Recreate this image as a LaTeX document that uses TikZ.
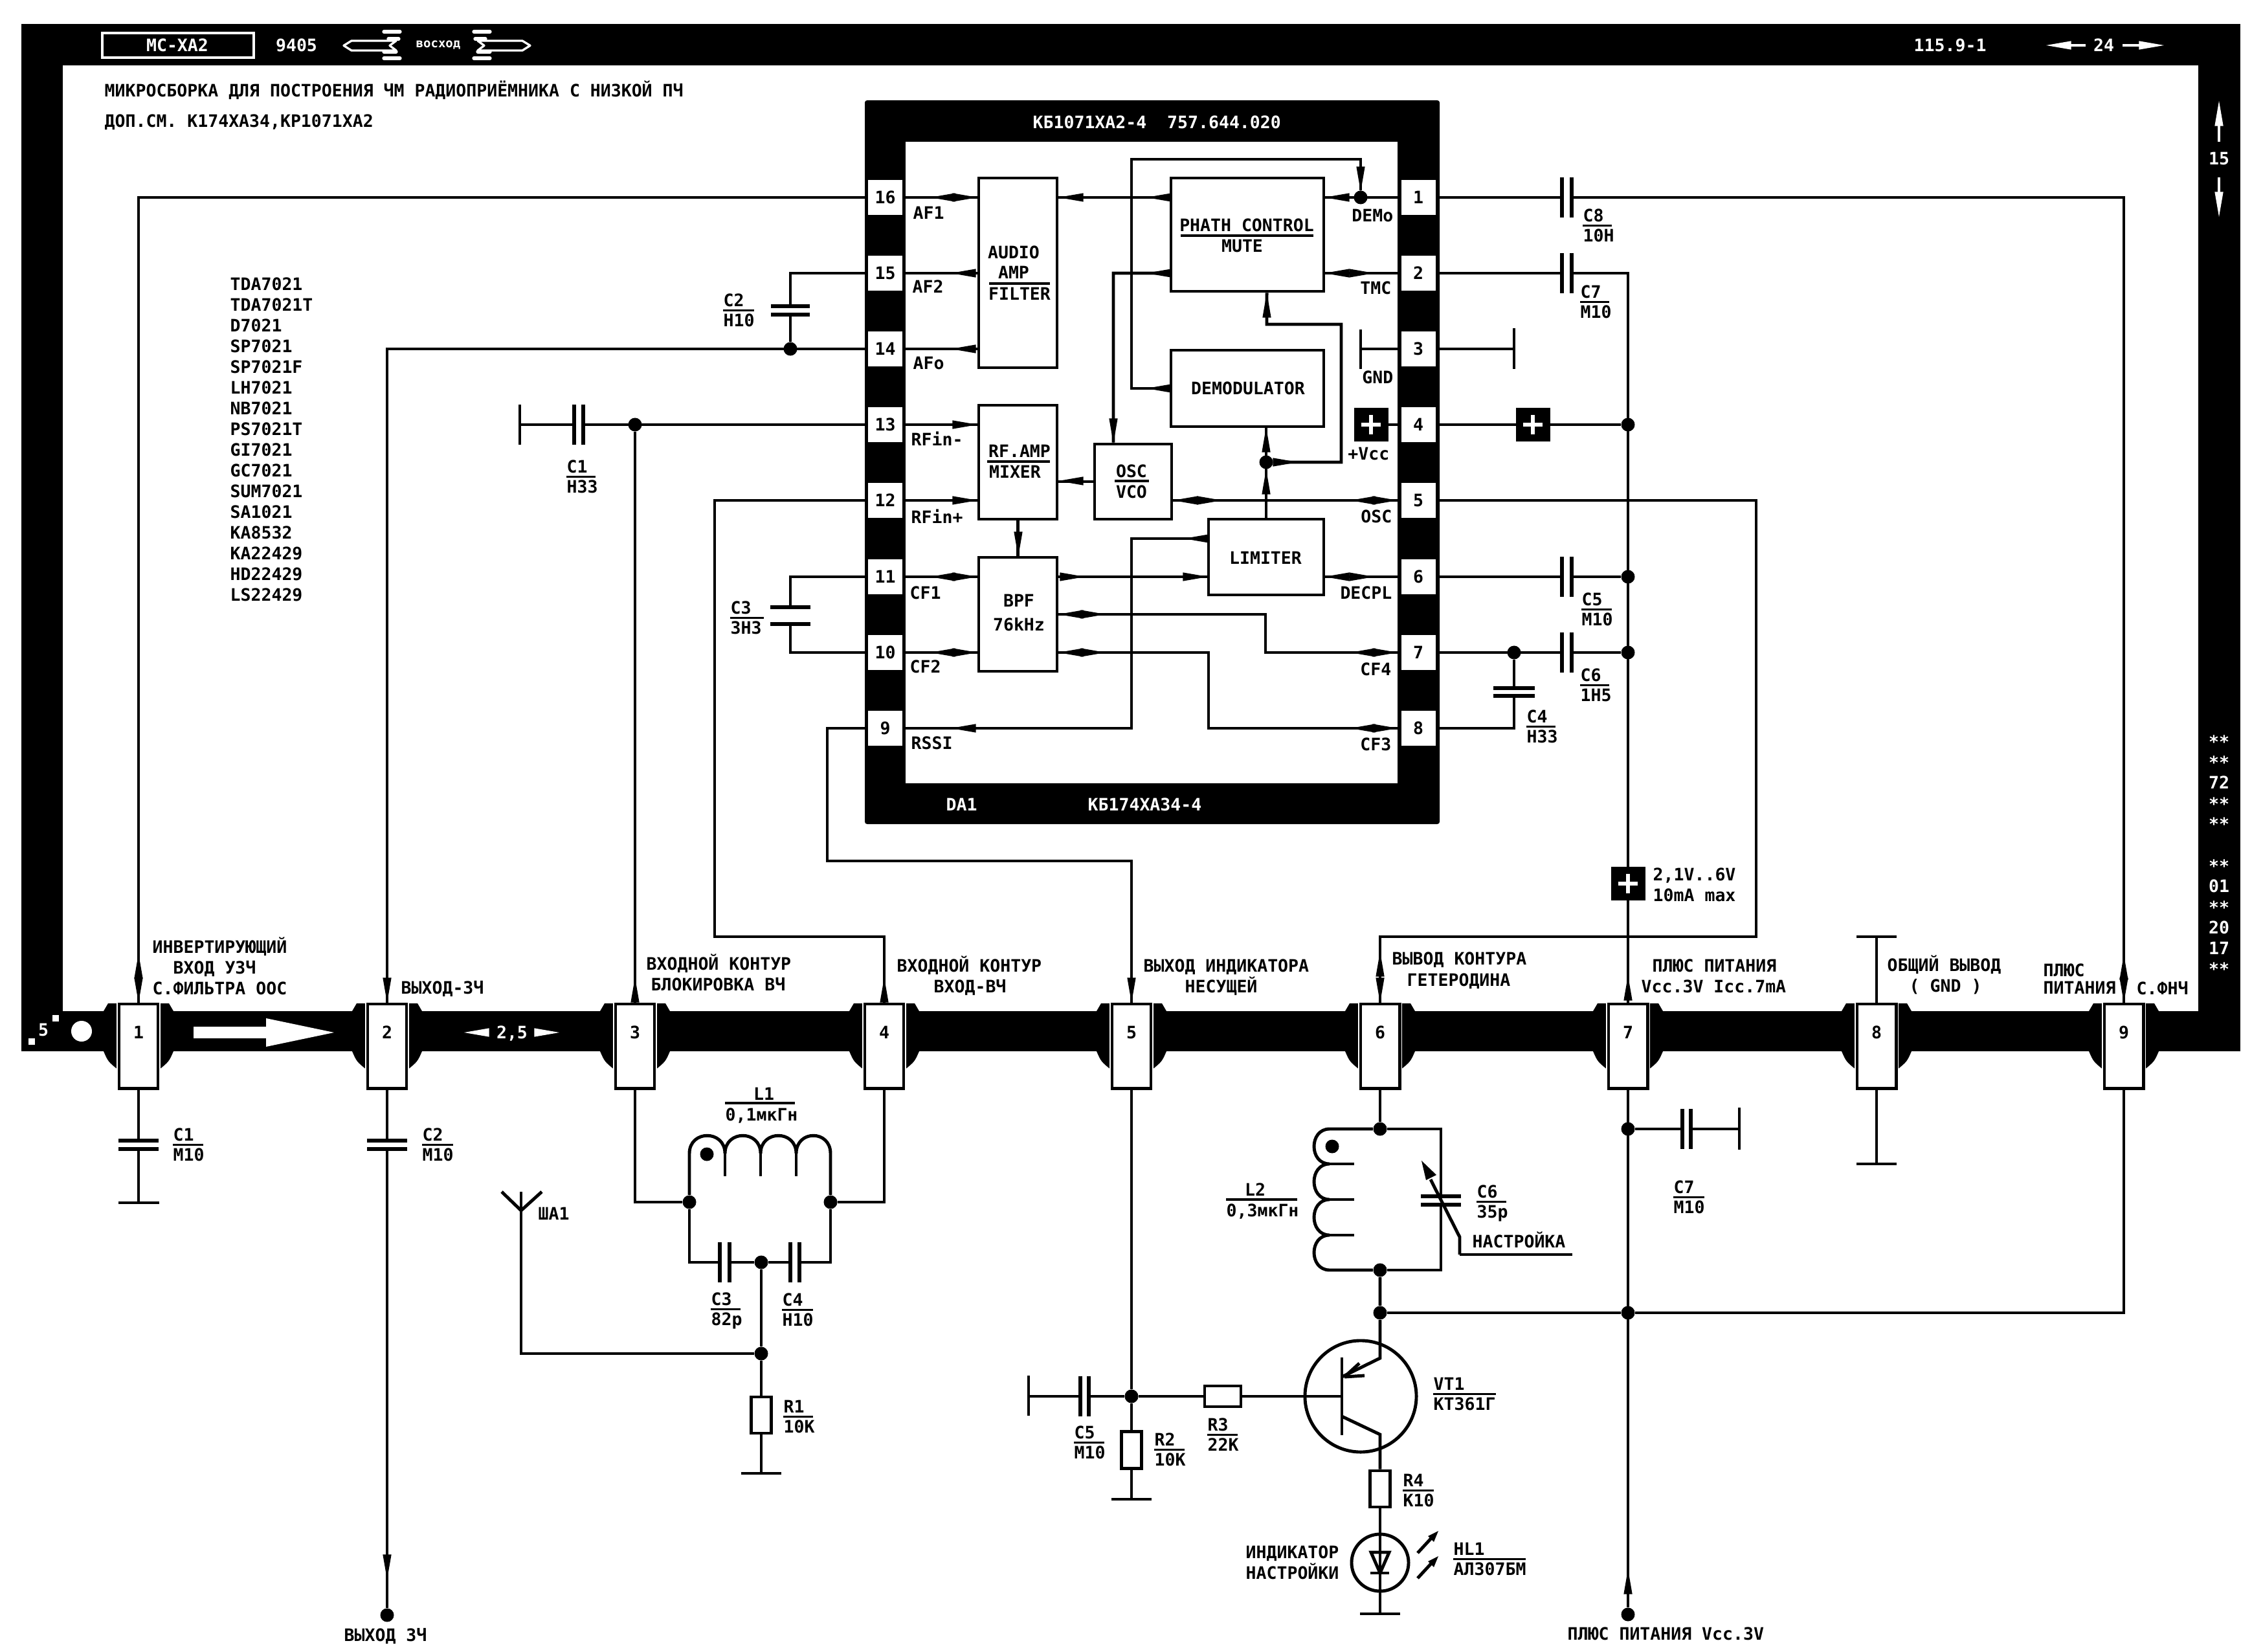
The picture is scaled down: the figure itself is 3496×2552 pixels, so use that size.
\documentclass[tikz,border=0pt]{standalone}
\usepackage{fontspec}
\usetikzlibrary{fit}
\newfontfamily\ftm{DejaVu Sans Mono}
\newcounter{tn}
\tikzset{
  w/.style={line width=1.4pt,line join=miter},
  pl/.style={line width=1.5pt},
  rl/.style={line width=1pt},
  lab/.style={font=\ftm\bfseries\fontsize{7.54}{9}\selectfont,inner sep=0pt,text height=5.5pt,text depth=0pt},
  smalllab/.style={font=\ftm\bfseries\fontsize{5.4}{6}\selectfont,inner sep=0pt,text=white},
  dot/.style={circle,fill=black,inner sep=0pt,minimum size=0.21cm},
  cpin/.style={rectangle,fill=white,inner sep=0pt,minimum width=0.53cm,minimum height=0.53cm,lab},
  bpin/.style={rectangle,draw=black,fill=white,line width=1.4pt,inner sep=0pt,minimum width=0.6cm,minimum height=1.3cm},
  numlab/.style={lab,yshift=6pt},
  res/.style={rectangle,draw=black,fill=white,line width=1.4pt,inner sep=0pt},
  blockst/.style={rectangle,draw=black,line width=1.4pt,inner sep=0pt},
  plusbox/.style={rectangle,fill=black,inner sep=0pt,minimum width=0.53cm,minimum height=0.52cm},
}
\newcommand\Tl[3]{\stepcounter{tn}\node[lab,anchor=west] (t\arabic{tn}) at (#1,#2) {#3};}
\newcommand\Tr[3]{\stepcounter{tn}\node[lab,anchor=east] (t\arabic{tn}) at (#1,#2) {#3};}
\newcommand\Tc[3]{\stepcounter{tn}\node[lab] (t\arabic{tn}) at (#1,#2) {#3};}
\newcommand\Wl[3]{\stepcounter{tn}\node[lab,anchor=west,text=white] (t\arabic{tn}) at (#1,#2) {#3};}
\newcommand\Wc[3]{\stepcounter{tn}\node[lab,text=white] (t\arabic{tn}) at (#1,#2) {#3};}
% arrowhead: tip x, y, direction angle
\newcommand\ah[4][black]{\fill[#1,shift={(#2,#3)},rotate=#4] (0pt,0pt) -- (-11pt,1.9pt) -- (-11pt,-1.9pt) -- cycle;}
% capacitor with horizontal plates: x,y1,y2,halfwidth
\newcommand\capH[4]{\fill[white] ({#1-5},#2) rectangle ({#1+5},#3);\draw[pl] ({#1-#4},#2) -- ({#1+#4},#2);\draw[pl] ({#1-#4},#3) -- ({#1+#4},#3);}
% capacitor with vertical plates: x1,x2,y,halfheight
\newcommand\capV[4]{\fill[white] (#1,{#3-5}) rectangle (#2,{#3+5});\draw[pl] (#1,{#3-#4}) -- (#1,{#3+#4});\draw[pl] (#2,{#3-#4}) -- (#2,{#3+#4});}
% value label: x, y of top line, right end of rule, top, bottom
\newcommand\val[5]{\Tl{#1}{#2}{#4}\draw[rl] (#1,{#2+15.5}) -- (#3,{#2+15.5});\Tl{#1}{#2+31}{#5}}
\newcommand\blk[5]{\node[blockst,fit={(#2,#3)(#4,#5)}] (#1) {};}
\newcommand\plusb[3]{\node[plusbox] (#1) at (#2,#3) {};\draw[white,line width=1.6pt] ([xshift=-0.15cm]#1.center) -- ([xshift=0.15cm]#1.center);\draw[white,line width=1.6pt] ([yshift=-0.15cm]#1.center) -- ([yshift=0.15cm]#1.center);}
\begin{document}
\begin{tikzpicture}[x=0.01cm,y=-0.01cm]
\useasboundingbox (0,0) rectangle (3496,2552);
\fill[white] (0,0) rectangle (3496,2552);
% ---------- frame
\fill[black] (33,37) rectangle (3461,101);
\fill[black] (33,37) rectangle (97,1624);
\fill[black] (3396,37) rectangle (3461,1624);
\fill[black] (33,1562) rectangle (3461,1624);
% ---------- head of frame
\draw[white,line width=0.9pt] (158,51) rectangle (392,89);
\Wc{274}{70}{МС-ХА2}
\Wc{458}{70}{9405}
\foreach \mir in {0,1}{
 \begin{scope}[shift={(\mir*1350,0)},xscale=1-2*\mir]
  \draw[white,line width=0.95pt,line join=round] (612,63) -- (543,63) -- (531,70.4) -- (543,78) -- (612,78) -- (602,70.4) -- cycle;
  \draw[white,line width=1.5pt,line cap=round] (593,49) -- (618,49);
  \draw[white,line width=1.5pt,line cap=round] (600,60) -- (616,60);
  \draw[white,line width=1.5pt,line cap=round] (593,80) -- (612,80);
  \draw[white,line width=1.5pt,line cap=round] (593,90) -- (618,90);
 \end{scope}
}
\node[smalllab] (voshod) at (677,70) {восход};
\Wl{2956}{70}{115.9-1}
\Wc{3250}{70}{24}
\ah[white]{3161}{70}{180}
\ah[white]{3343}{70}{0}
\fill[white] (3195,68) rectangle (3222,72);
\fill[white] (3279,68) rectangle (3310,72);
\Wc{3428}{245}{15}
\ah[white]{3428}{156}{90}
\ah[white]{3428}{335}{270}
\fill[white] (3426,190) rectangle (3430,219);
\fill[white] (3426,274) rectangle (3430,300);
\foreach \yy/\tx in {1146/**,1178/**,1209/72,1242/**,1273/**,1338/**,1369/01,1402/**,1433/20,1465/17,1497/**}{\Wc{3428}{\yy}{\tx}}
\Tl{161}{140}{МИКРОСБОРКА ДЛЯ ПОСТРОЕНИЯ ЧМ РАДИОПРИЁМНИКА С НИЗКОЙ ПЧ}
\Tl{161}{187}{ДОП.СМ. К174ХА34,КР1071ХА2}
\foreach \yy/\tx in {439/TDA7021,471/TDA7021T,503/D7021,535/SP7021,567/SP7021F,599/LH7021,631/NB7021,663/PS7021T,695/GI7021,727/GC7021,759/SUM7021,791/SA1021,823/KA8532,855/KA22429,887/HD22429,919/LS22429}{\Tl{355}{\yy}{\tx}}
% ---------- bar decoration
\fill[white] (126,1593) circle (16);
\fill[white] (44,1604) rectangle (54,1614);
\fill[white] (81,1568) rectangle (91,1578);
\Wc{67}{1591}{5}
\fill[white] (299,1586) rectangle (411,1604);
\fill[white] (411,1573) -- (516,1595) -- (411,1617) -- cycle;
\Wc{791}{1595}{2,5}
\ah[white]{717}{1595}{180}
\ah[white]{864}{1595}{0}
% ---------- bottom pins
\foreach \xx [count=\i] in {214,598,981,1366,1748,2132,2515,2899,3281}{
  \fill[black] ({\xx-54},1562) -- ({\xx-47},1550) -- ({\xx+47},1550) -- ({\xx+54},1562) -- ({\xx+54},1624) .. controls ({\xx+47},1640) .. ({\xx+31},1653) -- ({\xx-31},1653) .. controls ({\xx-47},1640) .. ({\xx-54},1624) -- cycle;
  \fill[white] ({\xx-34},1550) rectangle ({\xx+34},1660);
  \node[bpin,label={[numlab]center:\i}] (b\i) at (\xx,1616) {};
}
% ---------- chip body
\fill[black,rounded corners=1pt] (1336,155) rectangle (2224,1273);
\fill[white] (1399,219) rectangle (2159,1210);
\Wl{1595}{189}{КБ1071ХА2-4~~757.644.020}
\Wl{1461}{1243}{DA1}
\Wl{1680}{1243}{КБ174ХА34-4}
\foreach \yy/\i in {305/16,422/15,539/14,656/13,773/12,891/11,1008/10,1125/9}{\node[cpin] (p\i) at (1367.5,\yy) {\i};}
\foreach \yy/\i in {305/1,422/2,539/3,656/4,773/5,891/6,1008/7,1125/8}{\node[cpin] (q\i) at (2191,\yy) {\i};}
% ---------- blocks
\blk{audio}{1512}{275}{1633}{568}
\blk{phath}{1809}{275}{2045}{450}
\blk{demod}{1809}{541}{2045}{659}
\blk{rf}{1512}{626}{1633}{802}
\blk{vco}{1691}{686}{1810}{802}
\blk{lim}{1867}{802}{2045}{919}
\blk{bpf}{1512}{861}{1633}{1037}
\Tc{1566}{390}{AUDIO}\Tc{1566}{421}{AMP}\draw[rl] (1528,438) -- (1622,438);\Tc{1575}{454}{FILTER}
\Tc{1926}{348}{PHATH CONTROL}\draw[rl] (1824,364) -- (2029,364);\Tc{1919}{380}{MUTE}
\Tc{1928}{600}{DEMODULATOR}
\Tc{1575}{697}{RF.AMP}\draw[rl] (1525,713) -- (1622,713);\Tc{1568}{729}{MIXER}
\Tc{1748}{728}{OSC}\draw[rl] (1722,743) -- (1775,743);\Tc{1748}{760}{VCO}
\Tc{1955}{862}{LIMITER}
\Tc{1574}{928}{BPF}\Tc{1574}{965}{76kHz}
% pin captions
\Tl{1410}{329}{AF1}\Tl{1409}{443}{AF2}\Tl{1410}{561}{AFo}
\Tl{1407}{679}{RFin-}\Tl{1407}{799}{RFin+}\Tl{1405}{916}{CF1}\Tl{1405}{1030}{CF2}\Tl{1407}{1148}{RSSI}
\Tr{2153}{333}{DEMo}\Tr{2150}{445}{TMC}\Tr{2153}{583}{GND}\Tr{2147}{701}{+Vcc}
\Tr{2151}{798}{OSC}\Tr{2151}{916}{DECPL}\Tr{2150}{1034}{CF4}\Tr{2150}{1150}{CF3}
% ---------- wires inside chip
\draw[w] (p16.east) -- (audio.west |- p16);
\draw[w] (p15.east) -- (audio.west |- p15);
\draw[w] (p14.east) -- (audio.west |- p14);
\draw[w] (p13.east) -- (rf.west |- p13);
\draw[w] (p12.east) -- (rf.west |- p12);
\draw[w] (p11.east) -- (bpf.west |- p11);
\draw[w] (p10.east) -- (bpf.west |- p10);
\draw[w] (p9.east) -- (1748,1125) -- (1748,832) -- (1867,832);
\draw[w] (audio.east |- p16) -- (phath.west |- p16);
\node[dot] (jdem) at (2102,305) {};
\node[dot] (jlim) at (1956,714) {};
\draw[w] (demod.west) -- (1748,600) -- (1748,246) -- (2102,246) -- (jdem);
\draw[w] (phath.east |- q1) -- (q1.west);
\draw[w] (phath.east |- q2) -- (q2.west);
\draw[w] (phath.west |- q2) -- (1720,422) -- ([xshift=-0.305cm]vco.north);
\draw[w] (lim.north) -- (lim.north |- demod.south);
\draw[w] (jlim) -- (2072,714) -- (2072,501) -- (1957,501) -- ([xshift=0.3cm]phath.south);
\draw[w] (vco.west) -- (rf.east |- vco.west);
\draw[w] (rf.south) -- (bpf.north);
\draw[w] (vco.east |- q5) -- (q5.west);
\draw[w] (lim.east |- q6) -- (q6.west);
\draw[w] (bpf.east |- q6) -- (lim.west |- q6);
\draw[w] (bpf.east) -- (1955,949) -- (1955,1008) -- (q7.west);
\draw[w] (bpf.east |- q7) -- (1867,1008) -- (1867,1125) -- (q8.west);
\coordinate (gndi) at (2102,539);
\draw[w] (q3.west) -- (gndi);
\draw[w] (2102,509) -- (2102,570);
\plusb{vcci}{2118}{656}
\draw[w] (vcci.east) -- (q4.west);
% arrowheads inside chip
\foreach \yy in {305,891,1008}{\ah{1437}{\yy}{180}\ah{1510}{\yy}{0}}
\foreach \yy in {422,539,1125}{\ah{1469}{\yy}{180}}
\foreach \yy in {656,773}{\ah{1510}{\yy}{0}}
\ah{1829}{832}{180}
\ah{1635}{305}{180}\ah{1771}{305}{180}
\ah{1771}{600}{180}\ah{1771}{422}{180}
\ah{2102}{296}{270}
\ah{1720}{685}{270}
\ah{2046}{305}{180}
\ah{2046}{422}{180}\ah{2123}{422}{0}
\ah{1957}{452}{90}
\ah{2005}{714}{0}
\ah{1956}{660}{90}\ah{1956}{725}{90}
\ah{1812}{773}{180}\ah{1888}{773}{0}
\ah{2086}{773}{180}\ah{2159}{773}{0}
\ah{2046}{891}{180}\ah{2123}{891}{0}
\ah{1676}{891}{0}\ah{1866}{891}{0}
\ah{1635}{949}{180}\ah{1708}{949}{0}
\ah{2086}{1008}{180}\ah{2159}{1008}{0}
\ah{1635}{1008}{180}\ah{1708}{1008}{0}
\ah{2086}{1125}{180}\ah{2159}{1125}{0}
\ah{1635}{743}{180}
\ah{1573}{860}{270}
% ---------- outer wires, left
\node[dot] (j14) at (1221,539) {};
\node[dot] (j13) at (981,656) {};
\coordinate (g13) at (803,656);
\draw[w] (p16.west) -| (b1.north);
\draw[w] (p14.west) -| (b2.north);
\draw[w] (p15.west) -| (j14);
\draw[w] (p13.west) -- (g13);
\draw[w] (803,625) -- (803,687);
\draw[w] (j13) -- (b3.north);
\draw[w] (p12.west) -- (1104,773) -- (1104,1447) -| (b4.north);
\draw[w] (p11.west) -- (1221,891) -- (1221,1008) -- (p10.west);
\draw[w] (p9.west) -- (1278,1125) -- (1278,1330) -| (b5.north);
\capH{1221}{473}{486}{30}
\capV{887}{901}{656}{31}
\capH{1221}{938}{964}{31}
\val{1117}{464}{1165}{C2}{Н10}
\val{875}{721}{920}{C1}{Н33}
\val{1128}{939}{1180}{C3}{3Н3}
% ---------- outer wires, right
\node[dot] (jv4) at (2515,656) {};
\node[dot] (jv6) at (2515,891) {};
\node[dot] (jv7) at (2515,1008) {};
\node[dot] (jc7) at (2339,1008) {};
\coordinate (g3) at (2339,539);
\draw[w] (q1.east) -| (b9.north);
\draw[w] (q2.east) -| (b7.north);
\draw[w] (q3.east) -- (g3);
\draw[w] (2339,507) -- (2339,570);
\draw[w] (q4.east) -- (jv4);
\draw[w] (q5.east) -- (2713,773) -- (2713,1447) -| (b6.north);
\draw[w] (q6.east) -- (jv6);
\draw[w] (q7.east) -- (jv7);
\draw[w] (q8.east) -| (jc7);
\capV{2413}{2428}{305}{31}
\capV{2413}{2428}{422}{31}
\capV{2413}{2428}{891}{31}
\capV{2413}{2428}{1008}{31}
\capH{2339}{1063}{1075}{32}
\plusb{vcco}{2368}{656}
\plusb{vccm}{2515}{1365}
\val{2445}{333}{2490}{C8}{10Н}
\val{2441}{451}{2486}{C7}{М10}
\val{2443}{926}{2490}{C5}{М10}
\val{2441}{1043}{2486}{C6}{1Н5}
\val{2358}{1107}{2403}{C4}{Н33}
\Tl{2553}{1351}{2,1V..6V}
\Tl{2553}{1383}{10mA max}
% arrowheads at the bottom pins
\ah{214}{1473}{90}\ah{214}{1549}{270}
\ah{598}{1549}{270}
\ah{981}{1510}{90}
\ah{1366}{1510}{90}
\ah{1748}{1549}{270}
\ah{2132}{1470}{90}\ah{2132}{1549}{270}
\ah{2515}{1507}{90}
\ah{3281}{1475}{90}\ah{3281}{1549}{270}
% pin captions
\Tl{235}{1463}{ИНВЕРТИРУЮЩИЙ}\Tl{267}{1495}{ВХОД УЗЧ}\Tl{235}{1527}{С.ФИЛЬТРА ООС}
\Tl{619}{1526}{ВЫХОД-ЗЧ}
\Tl{998}{1489}{ВХОДНОЙ КОНТУР}\Tl{1005}{1521}{БЛОКИРОВКА ВЧ}
\Tl{1385}{1492}{ВХОДНОЙ КОНТУР}\Tl{1442}{1524}{ВХОД-ВЧ}
\Tl{1766}{1492}{ВЫХОД ИНДИКАТОРА}\Tl{1830}{1524}{НЕСУЩЕЙ}
\Tl{2150}{1481}{ВЫВОД КОНТУРА}\Tl{2173}{1514}{ГЕТЕРОДИНА}
\Tl{2552}{1492}{ПЛЮС ПИТАНИЯ}\Tl{2535}{1524}{Vcc.3V Icc.7mA}
\Tl{2915}{1491}{ОБЩИЙ ВЫВОД}\Tl{2949}{1523}{( GND )}
\Tl{3156}{1499}{ПЛЮС}\Tl{3156}{1526}{ПИТАНИЯ}\Tl{3300}{1527}{С.ФНЧ}
% ---------- lower circuit: pins 1, 2
\coordinate (g1) at (214,1858);
\draw[w] (b1.south) -- (g1);
\draw[w] (183,1858) -- (246,1858);
\capH{214}{1762}{1775}{31}
\val{267}{1753}{314}{C1}{М10}
\node[dot] (out3) at (598,2495) {};
\draw[w] (b2.south) -- (out3);
\capH{598}{1762}{1775}{31}
\ah{598}{2440}{270}
\val{652}{1753}{700}{C2}{М10}
\Tl{531}{2526}{ВЫХОД ЗЧ}
% ---------- pins 3, 4: L1 etc
\node[dot] (jla) at (1065,1857) {};
\node[dot] (jlb) at (1283,1857) {};
\node[dot] (jcc) at (1176,1950) {};
\node[dot] (jan) at (1176,2091) {};
\draw[w] (b3.south) |- (jla);
\draw[w] (b4.south) |- (jlb);
\draw[w] (jla) -- (1065,1782) .. controls (1065,1745) and (1120,1745) .. (1120,1782)
  .. controls (1120,1745) and (1175,1745) .. (1175,1782)
  .. controls (1175,1745) and (1230,1745) .. (1230,1782)
  .. controls (1230,1745) and (1283,1745) .. (1283,1782) -- (jlb);
\draw[w] (1120,1782) -- (1120,1817);
\draw[w] (1175,1782) -- (1175,1817);
\draw[w] (1230,1782) -- (1230,1817);
\node[dot] (dl1) at (1092,1783) {};
\draw[w] (jla) -- (1065,1950) -- (jcc);
\draw[w] (jlb) -- (1283,1950) -- (jcc);
\capV{1112}{1127}{1950}{31}
\capV{1221}{1235}{1950}{31}
\node[res,minimum width=0.31cm,minimum height=0.56cm] (r1) at (1176,2186) {};
\coordinate (g4) at (1176,2276);
\draw[w] (jcc) -- (jan) -- (r1.north);
\draw[w] (r1.south) -- (g4);
\draw[w] (1145,2276) -- (1207,2276);
\coordinate (ant) at (805,1870);
\draw[w] (jan) -- (805,2091) -- (ant);
\draw[w] (ant) -- (805,1841);
\draw[w] (775,1841) -- (ant) -- (837,1841);
\Tl{831}{1875}{ША1}
\Tc{1180}{1690}{L1}\draw[rl] (1120,1704) -- (1228,1704);\Tl{1120}{1722}{0,1мкГн}
\val{1098}{2007}{1144}{C3}{82p}
\val{1208}{2008}{1256}{C4}{Н10}
\val{1210}{2173}{1256}{R1}{10К}
% ---------- pin 5
\node[dot] (j5) at (1748,2157) {};
\coordinate (g5a) at (1748,2316);
\coordinate (g5b) at (1589,2157);
\node[res,minimum width=0.31cm,minimum height=0.57cm] (r2) at (1748,2240) {};
\node[res,minimum width=0.56cm,minimum height=0.32cm] (r3) at (1889,2157) {};
\node[circle,draw=black,line width=1.4pt,inner sep=0pt,minimum size=1.72cm] (vt) at (2102,2157) {};
\coordinate (vtb) at (2073,2157);
\draw[w] (b5.south) -- (j5) -- (r2.north);
\draw[w] (r2.south) -- (g5a);
\draw[w] (1717,2316) -- (1779,2316);
\draw[w] (j5) -- (g5b);
\draw[w] (1589,2125) -- (1589,2187);
\capV{1669}{1682}{2157}{31}
\draw[w] (j5) -- (r3.west);
\draw[w] (r3.east) -- (vtb);
\draw[w] (2073,2097) -- (2073,2217);
\val{1783}{2224}{1830}{R2}{10К}
\val{1865}{2201}{1912}{R3}{22К}
\val{1659}{2213}{1706}{C5}{М10}
\val{2214}{2138}{2311}{VT1}{КТ361Г}
% ---------- pin 6
\node[dot] (jl2t) at (2132,1744) {};
\node[dot] (jl2b) at (2132,1962) {};
\node[dot] (jtr) at (2132,2028) {};
\draw[w] (b6.south) -- (jl2t);
\draw[w] (jl2b) -- (jtr) -- (2132,2098) -- (2073,2127);
\draw[w] (jl2t) -- (2054,1744) .. controls (2022,1744) and (2022,1798) .. (2054,1798)
  .. controls (2022,1798) and (2022,1853) .. (2054,1853)
  .. controls (2022,1853) and (2022,1908) .. (2054,1908)
  .. controls (2022,1908) and (2022,1962) .. (2054,1962) -- (jl2b);
\draw[w] (2054,1798) -- (2092,1798);
\draw[w] (2054,1853) -- (2092,1853);
\draw[w] (2054,1908) -- (2092,1908);
\node[dot] (dl2) at (2058,1771) {};
\draw[w] (jl2t) -- (2226,1744) -- (2226,1962) -- (jl2b);
\capH{2226}{1848}{1861}{31}
\draw[w] (2255,1938) -- (2255,1911) -- (2210,1822);
\fill[black] (2196,1793) -- (2219,1815) -- (2203,1823) -- cycle;
\draw[w] (2255,1938) -- (2429,1938);
\Tl{2274}{1918}{НАСТРОЙКА}
\val{2281}{1841}{2327}{C6}{35p}
\Tc{1939}{1838}{L2}\draw[rl] (1894,1853) -- (2004,1853);\Tl{1894}{1870}{0,3мкГн}
% transistor
\draw[w] (2077,2127) -- (2100,2106);
\draw[w] (2077,2127) -- (2108,2125);
\node[res,minimum width=0.31cm,minimum height=0.56cm] (r4) at (2132,2300) {};
\node[circle,draw=black,line width=1.4pt,inner sep=0pt,minimum size=0.88cm] (led) at (2132,2414) {};
\coordinate (g6) at (2132,2493);
\draw[w] (2073,2188) -- (2132,2216) -- (r4.north);
\draw[w] (r4.south) -- (led.north) -- (g6);
\draw[w] (2101,2493) -- (2163,2493);
\draw[w] (2118,2398) -- (2146,2398) -- (2132,2430) -- cycle;
\draw[w] (2117,2430) -- (2146,2430);
\draw[w] (2190,2399) -- (2214,2373);
\draw[w] (2190,2438) -- (2214,2412);
\fill[black] (2222,2365) -- (2206,2373) -- (2215,2382) -- cycle;
\fill[black] (2222,2404) -- (2206,2412) -- (2215,2421) -- cycle;
\val{2167}{2287}{2215}{R4}{К10}
\val{2245}{2393}{2357}{HL1}{АЛ307БМ}
\Tl{1924}{2398}{ИНДИКАТОР}
\Tl{1924}{2430}{НАСТРОЙКИ}
% ---------- pin 7
\node[dot] (j7a) at (2515,1744) {};
\node[dot] (j7b) at (2515,2028) {};
\node[dot] (vccin) at (2515,2494) {};
\coordinate (g7) at (2687,1744);
\draw[w] (b7.south) -- (vccin);
\draw[w] (j7a) -- (g7);
\draw[w] (2687,1711) -- (2687,1776);
\capV{2599}{2612}{1744}{31}
\ah{2515}{2424}{90}
\val{2585}{1834}{2633}{C7}{М10}
\Tl{2421}{2524}{ПЛЮС ПИТАНИЯ Vcc.3V}
% ---------- pin 8, 9
\coordinate (g8a) at (2899,1447);
\coordinate (g8b) at (2899,1798);
\draw[w] (b8.north) -- (g8a);
\draw[w] (2868,1447) -- (2930,1447);
\draw[w] (b8.south) -- (g8b);
\draw[w] (2868,1798) -- (2930,1798);
\draw[w] (jtr) -- (j7b) -| (b9.south);
\end{tikzpicture}
\end{document}
